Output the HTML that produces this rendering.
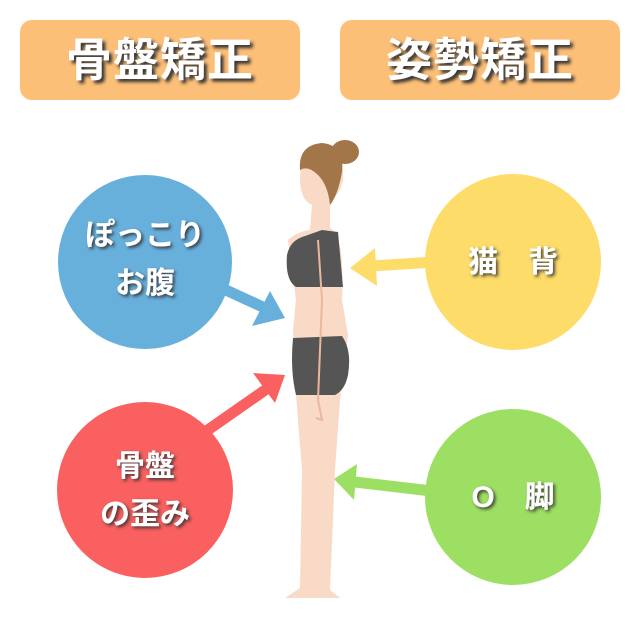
<!DOCTYPE html>
<html><head><meta charset="utf-8"><style>
body{margin:0;width:640px;height:640px;background:#fff;overflow:hidden;position:relative;font-family:"Liberation Sans","Noto Sans CJK JP",sans-serif;}
.box{position:absolute;top:20px;width:280px;height:80px;background:#fcbf78;border-radius:12px;color:#fff;font-size:46px;font-weight:bold;text-align:center;line-height:80px;text-shadow:3px 3px 3px #333;letter-spacing:1px}
svg{position:absolute;left:0;top:0}
</style></head><body>
<div class="box" style="left:20px">骨盤矯正</div>
<div class="box" style="left:340px">姿勢矯正</div>
<svg width="640" height="640" viewBox="0 0 640 640">
<defs><filter id="s"><feDropShadow dx="2" dy="2" stdDeviation="1.5" flood-color="#333" flood-opacity="0.9"/></filter></defs>
<circle cx="145" cy="262" r="87" fill="#68b0dc"/>
<circle cx="513" cy="262" r="88" fill="#fddc6a"/>
<circle cx="145" cy="490" r="88" fill="#fa6060"/>
<circle cx="513" cy="497" r="88" fill="#9ddf63"/>
<g font-size="30" font-weight="bold" fill="#fff" text-anchor="middle" filter="url(#s)" font-family="Liberation Sans,Noto Sans CJK JP,sans-serif">
<text x="145" y="245">ぽっこり</text><text x="145" y="293">お腹</text>
<text x="513" y="272">猫　背</text>
<text x="145" y="476">骨盤</text><text x="145" y="524">の歪み</text>
<text x="513" y="507">O　脚</text>
</g>
<!-- arrows -->
<g>
<line x1="215" y1="285" x2="265" y2="308" stroke="#68b0dc" stroke-width="11"/>
<polygon points="285,318 252,326 270,291" fill="#68b0dc"/>
<line x1="435" y1="262" x2="370" y2="266" stroke="#fddc6a" stroke-width="11"/>
<polygon points="350,268 375,248 377,286" fill="#fddc6a"/>
<line x1="205" y1="432" x2="268" y2="388" stroke="#fa6060" stroke-width="11"/>
<polygon points="285,375 253,373 275,403" fill="#fa6060"/>
<line x1="440" y1="492" x2="355" y2="482" stroke="#9ddf63" stroke-width="11"/>
<polygon points="334,479 357,464 354,500" fill="#9ddf63"/>
</g>
<!-- figure -->
<g fill="#f9dac6">
<path d="M300,178 Q300,150 322,148 Q345,150 343,180 Q340,195 330,200 L330,230 L310,230 L312,205 Q300,200 300,178Z"/>
<path d="M288,240 Q300,228 330,228 Q345,235 342,300 L348,335 L340,400 L335,470 L330,590 L340,598 L285,598 L300,588 L302,470 L296,395 L293,330 L296,300 Z"/>
</g>
<ellipse cx="345" cy="152" rx="14" ry="12" fill="#a3764a"/>
<path d="M300,170 Q298,145 322,143 Q345,145 342,172 Q338,195 330,205 Q328,185 318,175 Q308,165 300,170Z" fill="#a3764a"/>
<path d="M287,255 Q290,240 305,236 L322,230 L338,232 L343,287 L296,287 Q285,280 287,255Z" fill="#555"/>
<path d="M293,338 L342,336 Q352,350 348,375 Q345,390 335,395 L296,395 Q290,370 293,338Z" fill="#555"/>
<path d="M318,240 L322,300 L318,400 L322,420 L316,418" stroke="#eab79c" stroke-width="2" fill="none"/>
</g>
</svg>
</body></html>
